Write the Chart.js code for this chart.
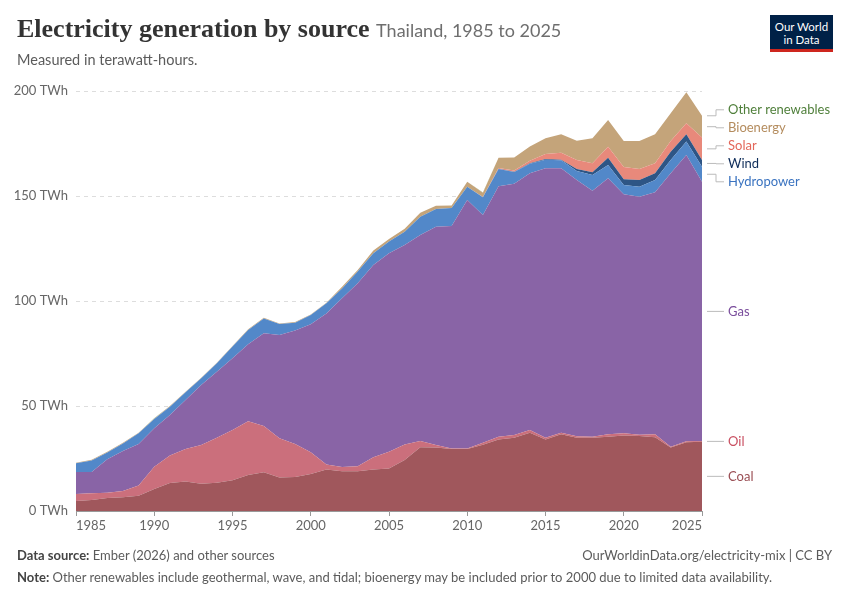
<!DOCTYPE html>
<html>
<head>
<meta charset="utf-8">
<script src="https://cdn.jsdelivr.net/npm/chart.js@4.4.1/dist/chart.umd.min.js"></script>
<style>
  body { margin: 0; background: #fff; font-family: Lato, sans-serif; }
  #wrap { position: relative; width: 850px; height: 600px; overflow: hidden; }
  #chart-canvas { position: absolute; left: 0; top: 0; }
  .title { position: absolute; left: 17px; top: 14px; font-family: "Liberation Serif", serif; font-weight: bold; font-size: 26px; color: #333; white-space: nowrap; }
  .title span { font-family: Lato, sans-serif; font-weight: normal; font-size: 18px; color: #6e6e6e; }
  .subtitle { position: absolute; left: 17px; top: 51px; font-size: 14.5px; color: #5b5b5b; }
  .logo { position: absolute; left: 770px; top: 15px; width: 63px; height: 37px; background: #002147; color: #fff; font-size: 11.5px; line-height: 13px; text-align: center; box-sizing: border-box; padding-top: 5px; border-bottom: 3px solid #ce261e; }
  .foot { position: absolute; font-size: 13px; color: #5b5b5b; white-space: nowrap; }
  .foot b { font-weight: bold; color: #444; }
</style>
</head>
<body>
<div id="wrap">
  <canvas id="chart-canvas" width="850" height="600"></canvas>
  <div class="title">Electricity generation by source <span>Thailand, 1985 to 2025</span></div>
  <div class="subtitle">Measured in terawatt-hours.</div>
  <div class="logo">Our World<br>in Data</div>
  <div class="foot" style="left:17px; top:547px;"><b>Data source:</b> Ember (2026) and other sources</div>
  <div class="foot" style="right:18px; top:547px;">OurWorldinData.org/electricity-mix | CC BY</div>
  <div class="foot" style="left:17px; top:569px;"><b>Note:</b> Other renewables include geothermal, wave, and tidal; bioenergy may be included prior to 2000 due to limited data availability.</div>
</div>
<script>
const years = [1985, 1986, 1987, 1988, 1989, 1990, 1991, 1992, 1993, 1994,
    1995, 1996, 1997, 1998, 1999, 2000, 2001, 2002, 2003, 2004,
    2005, 2006, 2007, 2008, 2009, 2010, 2011, 2012, 2013, 2014,
    2015, 2016, 2017, 2018, 2019, 2020, 2021, 2022, 2023, 2024, 2025];

// TWh
const coal = [4.8, 5.2, 6.2, 6.5, 7.3, 10.5, 13.3, 14.1, 13.0, 13.5,
    14.6, 17.1, 18.4, 15.9, 16.2, 17.6, 19.8, 18.9, 18.9, 19.8,
    20.2, 24.3, 30.3, 30.2, 29.5, 29.5, 31.6, 34.1, 34.9, 37.3,
    34.1, 36.5, 34.9, 34.9, 35.4, 36.0, 35.7, 35.1, 30.2, 32.7, 33.0];
const oil = [3.3, 3.2, 2.5, 3.0, 4.9, 10.6, 13.1, 15.4, 18.4, 21.4,
    24.0, 25.6, 22.1, 18.7, 15.7, 10.4, 2.4, 2.1, 2.4, 5.8,
    8.0, 7.4, 3.0, 1.2, 0.3, 0.3, 0.9, 1.3, 1.3, 1.3,
    0.8, 0.8, 0.7, 0.5, 1.1, 1.0, 0.6, 1.4, 0.4, 0.5, 0.3];
const gas = [10.5, 10.2, 15.9, 19.1, 19.7, 18.3, 19.3, 23.4, 28.6, 31.4,
    34.1, 36.7, 44.1, 49.2, 54.0, 60.9, 71.9, 80.3, 87.1, 91.5,
    94.5, 95.0, 98.1, 104.0, 105.9, 118.3, 108.5, 119.2, 119.6, 122.2,
    128.3, 125.9, 122.0, 117.1, 121.9, 113.8, 113.4, 115.3, 130.2, 136.3, 123.5];
const hydro = [4.1, 5.5, 3.3, 3.6, 5.1, 4.4, 4.0, 3.6, 3.2, 4.0,
    5.6, 6.8, 7.1, 5.2, 3.8, 4.4, 4.8, 4.7, 5.6, 5.6,
    5.6, 6.3, 8.7, 8.4, 8.6, 6.3, 8.4, 8.3, 5.6, 4.5,
    4.1, 3.8, 4.3, 7.5, 6.4, 4.4, 4.7, 5.8, 6.3, 6.4, 7.1];
const wind = [0, 0, 0, 0, 0, 0, 0, 0, 0, 0,
    0, 0, 0, 0, 0, 0, 0, 0, 0, 0,
    0, 0, 0, 0, 0, 0, 0, 0.1, 0.2, 0.3,
    0.3, 0.3, 1.0, 1.3, 3.4, 2.8, 3.2, 3.2, 4.0, 3.5, 3.2];
const solar = [0, 0, 0, 0, 0, 0, 0, 0, 0, 0,
    0, 0, 0, 0, 0, 0, 0, 0, 0, 0,
    0, 0, 0, 0, 0, 0, 0.1, 0.3, 0.6, 1.2,
    2.4, 3.3, 4.2, 4.3, 5.3, 5.8, 5.3, 4.8, 5.1, 5.2, 10.7];
const bioenergy = [0.3, 0.3, 0.3, 0.3, 0.3, 0.3, 0.3, 0.3, 0.3, 0.3,
    0.3, 0.3, 0.3, 0.3, 0.3, 0.3, 0.3, 0.8, 0.8, 1.3,
    1.2, 1.4, 1.9, 1.6, 1.2, 2.4, 2.1, 4.9, 6.1, 6.8,
    7.5, 8.8, 9.2, 11.9, 12.7, 12.4, 13.3, 13.8, 13.2, 14.8, 10.4];
const otherRenewables = [0, 0, 0, 0, 0.01, 0.01, 0.01, 0.01, 0.01, 0.01,
    0.01, 0.01, 0.01, 0.01, 0.01, 0.01, 0.01, 0.01, 0.01, 0.01,
    0.01, 0.01, 0.01, 0.01, 0.01, 0.01, 0.01, 0.01, 0.01, 0.01,
    0.01, 0.01, 0.01, 0.01, 0.01, 0.01, 0.01, 0.01, 0.01, 0.01, 0.01];

const seriesNames = ['Coal', 'Oil', 'Gas', 'Hydropower', 'Wind', 'Solar', 'Bioenergy', 'Other renewables'];
const seriesValues = [coal, oil, gas, hydro, wind, solar, bioenergy, otherRenewables];
const fillColors = ['#a0575c', '#cb6f7c', '#8964a6', '#5288c9', '#2e5585', '#e8897b', '#c4a47a', '#4f8a3c'];
const labelColors = ['#9a4e54', '#c94f61', '#7a4d9c', '#3a73c0', '#0f2d5a', '#e3675a', '#b48c5e', '#4f7f3a'];
const yTicks = [0, 50, 100, 150, 200];

// labels on the right, spread so they don't overlap
const sideLabels = {
    id: 'sideLabels',
    afterDatasetsDraw(chart) {
        const ctx = chart.ctx;
        const area = chart.chartArea;
        const y = chart.scales.y;
        const last = years.length - 1;
        let base = 0;
        const items = seriesNames.map((name, i) => {
            const v = seriesValues[i][last];
            const mid = base + v / 2;
            base += v;
            const t = y.getPixelForValue(mid);
            return { name: name, color: labelColors[i], target: t, pos: t };
        });
        const gap = 18;
        for (let k = 0; k < 200; k++) {
            for (let i = 0; i < items.length - 1; i++) {
                const lower = items[i], upper = items[i + 1];
                const d = lower.pos - upper.pos;
                if (d < gap) {
                    const push = (gap - d) / 2;
                    lower.pos += push;
                    upper.pos -= push;
                }
            }
        }
        ctx.save();
        ctx.strokeStyle = '#bbbbbb';
        ctx.lineWidth = 1;
        ctx.font = '13px Lato';
        ctx.textBaseline = 'middle';
        items.forEach(it => {
            const x0 = area.right + 5;
            ctx.beginPath();
            ctx.moveTo(x0, it.target);
            ctx.lineTo(x0 + 9, it.target);
            ctx.lineTo(x0 + 9, it.pos);
            ctx.lineTo(x0 + 17, it.pos);
            ctx.stroke();
            ctx.fillStyle = it.color;
            ctx.fillText(it.name, x0 + 21, it.pos);
        });
        ctx.restore();
    }
};

function initializeChart() {
    const ctx = document.getElementById('chart-canvas').getContext('2d');
    new Chart(ctx, {
        type: 'line',
        data: {
            labels: years,
            datasets: seriesNames.map((name, i) => ({
                label: name,
                data: seriesValues[i].map((v, j) => ({ x: years[j], y: v })),
                backgroundColor: fillColors[i],
                borderColor: fillColors[i],
                borderWidth: 0,
                pointRadius: 0,
                tension: 0,
                fill: i === 0 ? 'origin' : '-1'
            }))
        },
        options: {
            responsive: false,
            animation: false,
            layout: { padding: { left: 10, right: 148, top: 91, bottom: 64 } },
            plugins: {
                legend: { display: false },
                tooltip: { enabled: false }
            },
            scales: {
                x: {
                    type: 'linear',
                    min: 1985,
                    max: 2025,
                    afterFit: scale => { scale.height = 25; },
                    grid: { drawOnChartArea: false, drawTicks: true, tickLength: 5, color: '#999' },
                    border: { display: true, color: '#999' },
                    ticks: {
                        stepSize: 5,
                        align: 'inner',
                        color: '#666',
                        font: { family: 'Lato', size: 13 },
                        maxRotation: 0,
                        padding: 2,
                        callback: v => String(v)
                    }
                },
                y: {
                    stacked: true,
                    min: 0,
                    max: 200,
                    afterFit: scale => { scale.width = 66; },
                    afterBuildTicks: scale => { scale.ticks = yTicks.map(v => ({ value: v })); },
                    grid: { color: '#dddddd', drawTicks: false },
                    border: { display: false, dash: [4, 4] },
                    ticks: {
                        color: '#666',
                        font: { family: 'Lato', size: 13 },
                        padding: 8,
                        callback: v => v + ' TWh'
                    }
                }
            }
        },
        plugins: [sideLabels]
    });
}

initializeChart();
</script>
</body>
</html>
